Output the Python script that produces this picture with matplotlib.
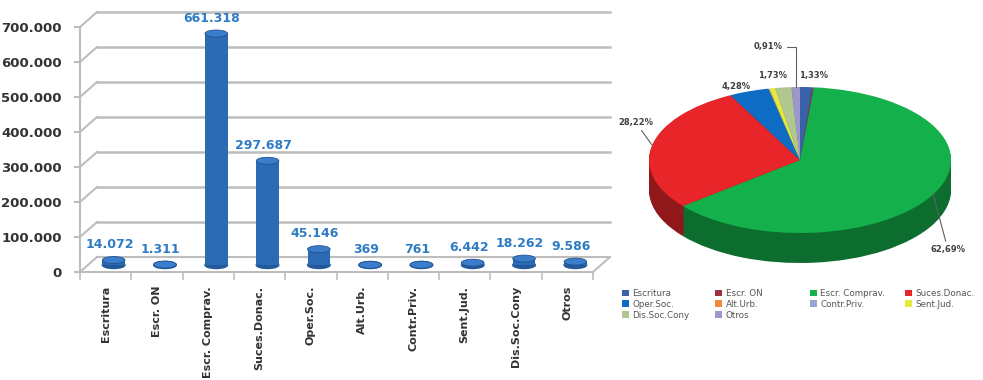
import matplotlib.pyplot as plt
import numpy as np
from matplotlib.patches import Ellipse
from matplotlib.transforms import offset_copy

# data
categories = ['Escritura', 'Escr. ON', 'Escr. Comprav.', 'Suces.Donac.', 'Oper.Soc.',
              'Alt.Urb.', 'Contr.Priv.', 'Sent.Jud.', 'Dis.Soc.Cony', 'Otros']
values = [14072, 1311, 661318, 297687, 45146, 369, 761, 6442, 18262, 9586]
yticks = [0, 100000, 200000, 300000, 400000, 500000, 600000, 700000]
pie_colors = ['#3a62a8', '#a03040', '#14b04c', '#e8262a', '#0e6cc4',
              '#f08a3c', '#9aa4d0', '#e6ea3c', '#b0c890', '#9c98cc']
# which slices get a % label, and where the text sits (pie units)
pie_label_pos = {2: (0.98, -1.23), 3: (-1.09, 0.52), 4: (-0.42, 1.01),
                 8: (-0.18, 1.16), 9: (-0.21, 1.55), 0: (0.09, 1.16)}
leader = [2, 3, 9]

W, H = 983, 380
fig = plt.figure(figsize=(W / 100, H / 100), dpi=100)

def px_axes(x0, y0, x1, y1):
    return fig.add_axes([x0 / W, 1 - y1 / H, (x1 - x0) / W, (y1 - y0) / H])

def fmt(v):
    return f"{v:,.0f}".replace(',', '.')

# ---------------- bar chart ----------------
ax = px_axes(80, 27, 593, 272)
x = np.arange(len(values))
ax.set_xlim(-0.5, 9.5)
ax.set_ylim(0, 700000)

# size of one "depth" step in data units
dx = 17 * 10 / 513
dy = 15 * 700000 / 245
x0, x1 = ax.get_xlim()
grid_c = '#bdbdbd'
for t in yticks[1:]:
    ax.plot([x0 + dx, x1 + dx], [t + dy, t + dy], color=grid_c, lw=1.8, clip_on=False, zorder=1)
for t in yticks:
    ax.plot([x0, x0 + dx], [t, t + dy], color=grid_c, lw=1.5, clip_on=False, zorder=1)
# floor
ax.plot([x0 + dx, x1 + dx], [dy, dy], color=grid_c, lw=1.5, clip_on=False, zorder=1)
ax.plot([x1, x1 + dx], [0, dy], color=grid_c, lw=1.5, clip_on=False, zorder=1)

# bars sit half way into the depth
bar_tr = offset_copy(ax.transData, fig=fig, x=8, y=7, units='dots')
bw = 0.44
cap_h = 7 * 700000 / 245
ax.bar(x, values, width=bw, color='#2c6ab3', edgecolor='none', transform=bar_tr, zorder=3)
for i, v in enumerate(values):
    ax.add_patch(Ellipse((i, 0), bw, cap_h, transform=bar_tr, color='#23599a', zorder=2.9))
    ax.add_patch(Ellipse((i, v), bw, cap_h, transform=bar_tr, facecolor='#3b7ccb',
                         edgecolor='#1f5390', lw=0.6, zorder=4))
    ax.annotate(fmt(v), xy=(i, v), xycoords=bar_tr, xytext=(-3, 6.5),
                textcoords='offset points', ha='center', va='bottom',
                color='#2e7cc4', fontsize=9, fontweight='bold', zorder=5)

ax.set_yticks(yticks)
ax.set_yticklabels([fmt(t) for t in yticks], fontsize=9.5, fontweight='bold', color='#333333')
ax.set_xticks(x)
ax.set_xticklabels(categories, rotation=90, fontsize=8, fontweight='bold', color='#333333')
ax.set_xticks(np.arange(-0.5, 10, 1), minor=True)
ax.tick_params(axis='x', which='major', length=0, pad=10)
ax.tick_params(axis='x', which='minor', length=6, color=grid_c, width=1.2)
ax.tick_params(axis='y', length=4, color=grid_c, width=1.5, pad=9)
for s in ['top', 'right']:
    ax.spines[s].set_visible(False)
ax.spines['left'].set_color(grid_c)
ax.spines['left'].set_linewidth(1.5)
ax.spines['bottom'].set_color(grid_c)
ax.spines['bottom'].set_linewidth(1.5)
ax.patch.set_alpha(0)

# ---------------- 3d-ish pie ----------------
ax2 = px_axes(600, 20, 983, 285)
depth = 30 / 73
n_layers = 30
side_colors = [tuple(c * 0.62 for c in plt.matplotlib.colors.to_rgb(col)) for col in pie_colors]
for k in range(n_layers, 0, -1):
    ax2.pie(values, colors=side_colors, startangle=90, counterclock=False,
            center=(0, -depth * k / n_layers), wedgeprops=dict(linewidth=0))
wedges, _ = ax2.pie(values, colors=pie_colors, startangle=90, counterclock=False,
                    wedgeprops=dict(linewidth=0))
ax2.set_aspect('auto')
ax2.set_xlim(-200 / 151, 183 / 151)
ax2.set_ylim(-125 / 73, 140 / 73)
ax2.axis('off')

total = sum(values)
for i, pos in pie_label_pos.items():
    txt = f"{values[i] / total * 100:.2f}%".replace('.', ',')
    if i in leader:
        w = wedges[i]
        mid = np.deg2rad((w.theta1 + w.theta2) / 2)
        cs = 'angle,angleA=0,angleB=90,rad=0' if i == 9 else 'arc3'
        ax2.annotate(txt, xy=(np.cos(mid), np.sin(mid)), xytext=pos,
                     ha='center', va='center', fontsize=6, fontweight='bold', color='#404040',
                     arrowprops=dict(arrowstyle='-', color='#606060', lw=0.8,
                                     connectionstyle=cs, shrinkA=1, shrinkB=0))
    else:
        ax2.text(pos[0], pos[1], txt, ha='center', va='center', fontsize=6,
                 fontweight='bold', color='#404040')

# legend, laid out in rows of four like the original
cols = [[0, 4, 8], [1, 5, 9], [2, 6], [3, 7]]
col_x = [622, 715, 810, 905]
for c, idx in zip(col_x, cols):
    fig.legend([wedges[i] for i in idx], [categories[i] for i in idx],
               loc='upper left', bbox_to_anchor=(c / W, 1 - 289 / H),
               frameon=False, fontsize=6.3, labelcolor='#555555',
               handlelength=0.8, handleheight=0.8, handletextpad=0.4,
               labelspacing=0.2, borderpad=0, borderaxespad=0)

fig.savefig('out.png', dpi=100)
